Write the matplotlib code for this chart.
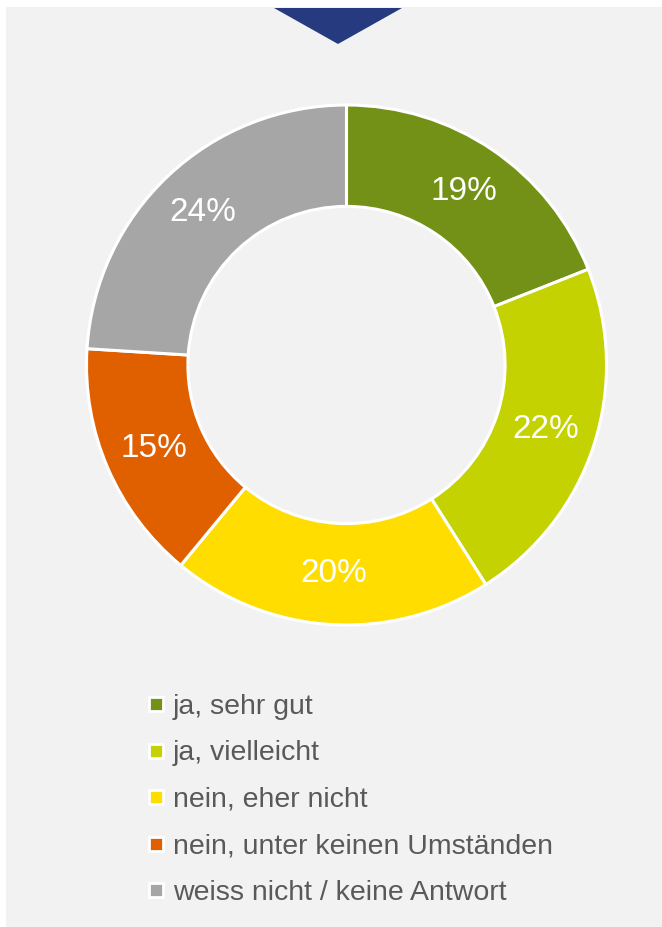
import matplotlib.pyplot as plt
from matplotlib.patches import Rectangle, Polygon
from matplotlib.lines import Line2D

plt.rcParams['font.family'] = ['Liberation Sans', 'DejaVu Sans']

# data
categories = ['ja, sehr gut', 'ja, vielleicht', 'nein, eher nicht',
              'nein, unter keinen Umständen', 'weiss nicht / keine Antwort']
shares = [19, 22, 20, 15, 24]
colors = ['#739116', '#c3d200', '#ffdd00', '#e06000', '#a6a6a6']

W, H = 662, 927
fig = plt.figure(figsize=(W / 100, H / 100), dpi=100)
fig.patch.set_facecolor('white')

# grey panel + blue marker triangle at top
fig.patches.append(Rectangle((6 / W, 0), 1 - 6 / W, 1 - 7 / H, transform=fig.transFigure,
                             facecolor='#f2f2f2', edgecolor='none', zorder=-10))
fig.patches.append(Polygon([(274 / W, 1 - 8 / H), (402 / W, 1 - 8 / H), (338 / W, 1 - 44 / H)],
                           closed=True, transform=fig.transFigure,
                           facecolor='#263a7f', edgecolor='none', zorder=-5))

# donut
cx, cy, r = 346.5, 365, 260
ax = fig.add_axes([(cx - r) / W, (H - cy - r) / H, 2 * r / W, 2 * r / H])
ax.set_zorder(2)
ax.set_facecolor('none')
wedges, _, autotexts = ax.pie(shares, colors=colors, startangle=90, counterclock=False,
                              radius=1, autopct='%.0f%%', pctdistance=0.805,
                              wedgeprops=dict(width=0.39, edgecolor='white', linewidth=2.2),
                              textprops=dict(color='white', fontsize=24))
ax.set_xlim(-1, 1)
ax.set_ylim(-1, 1)
ax.set_aspect('equal')
ax.axis('off')

# legend
handles = [Line2D([], [], linestyle='none', marker='s', markersize=9.5,
                  markerfacecolor=c, markeredgecolor='white', markeredgewidth=2)
           for c in colors]
fig.legend(handles, categories, loc='upper left', bbox_to_anchor=(147 / W, 1 - 694 / H),
           frameon=False, fontsize=20.5, labelcolor='#595959', labelspacing=0.72,
           handlelength=0.6, handletextpad=0.3, borderpad=0, borderaxespad=0)

fig.savefig('out.png', dpi=100, facecolor=fig.get_facecolor())
